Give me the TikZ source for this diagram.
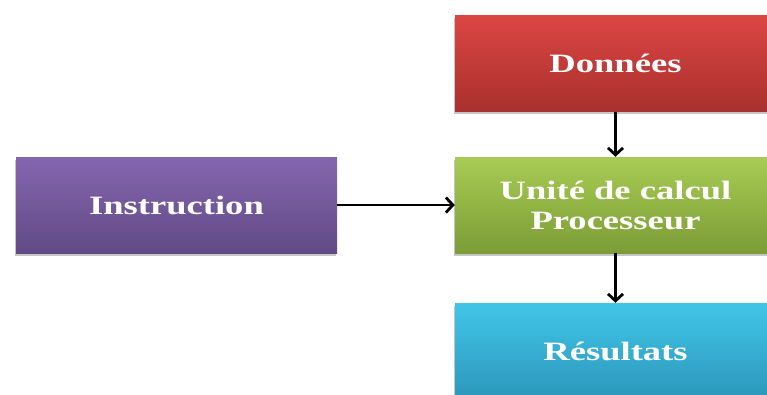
\documentclass[tikz,border=0pt]{standalone}
\usepackage{fontspec}
\newfontfamily\boxfont[FakeStretch=1.38]{Liberation Serif Bold}
\usetikzlibrary{arrows.meta,shadows}

\definecolor{redtop}{RGB}{220,70,66}
\definecolor{redbot}{RGB}{168,48,46}
\definecolor{purtop}{RGB}{132,102,174}
\definecolor{purbot}{RGB}{98,74,134}
\definecolor{grntop}{RGB}{168,204,84}
\definecolor{grnbot}{RGB}{124,156,54}
\definecolor{blutop}{RGB}{64,198,232}
\definecolor{blubot}{RGB}{44,150,186}

\tikzset{
  block/.style={rectangle, minimum width=321pt, minimum height=96pt,
    inner sep=0pt, align=center, text=white,
    font=\boxfont\fontsize{26.5}{30}\selectfont,
    drop shadow={shadow xshift=-1.5pt, shadow yshift=-2.5pt, opacity=0.45}},
  flow/.style={line width=2.8pt, -{Straight Barb[length=7pt,width=15pt,line width=2.8pt]}}
}

\begin{document}
\begin{tikzpicture}[x=1pt,y=-1pt]
  \useasboundingbox (0,0) rectangle (767,394);

  \node[block, top color=redtop, bottom color=redbot] (donnees) at (615.5,63.5) {Données};
  \node[block, top color=grntop, bottom color=grnbot] (unite) at (615.5,205) {Unité de calcul\\Processeur};
  \node[block, top color=blutop, bottom color=blubot] (resultats) at (615.5,351) {Résultats};
  \node[block, top color=purtop, bottom color=purbot] (instr) at (176.5,205) {Instruction};

  \draw[flow] (donnees) -- (unite);
  \draw[flow] (unite) -- (resultats);
  \draw[flow] (instr) -- (unite);
\end{tikzpicture}
\end{document}
